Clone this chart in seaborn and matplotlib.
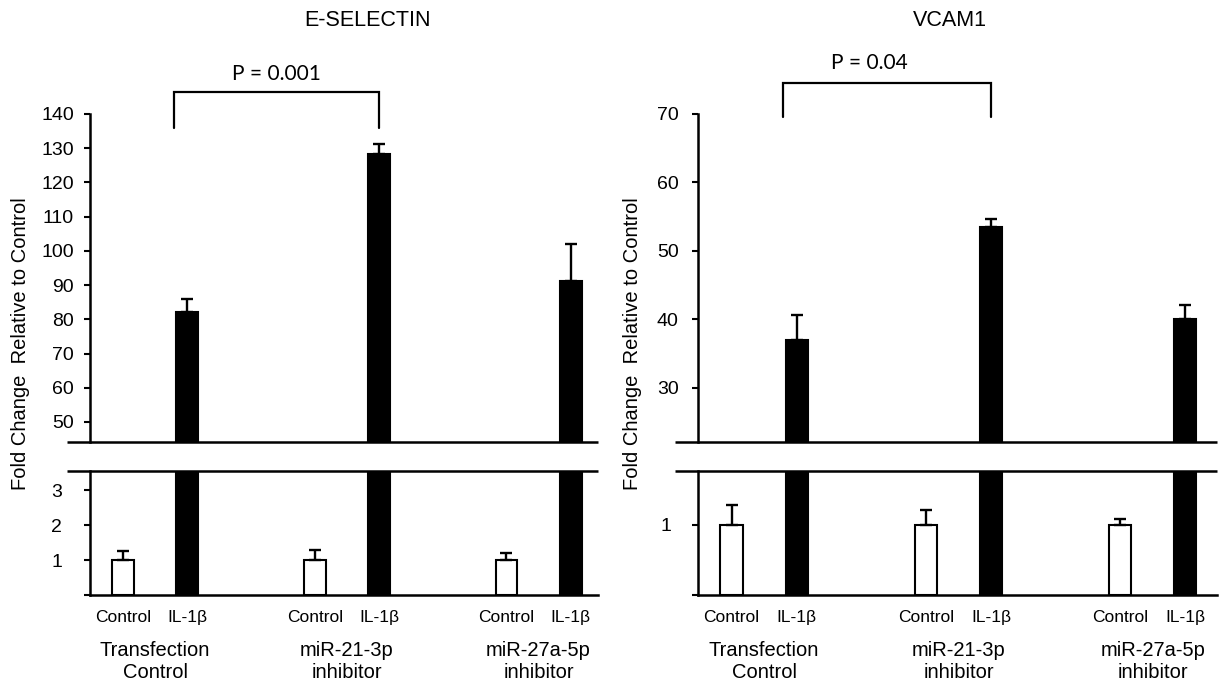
import numpy as np
import pandas as pd
import matplotlib
matplotlib.use("Agg")
import matplotlib.pyplot as plt
import seaborn as sns

# ---------------- data ----------------
groups = ["Transfection\nControl", "miR-21-3p\ninhibitor", "miR-27a-5p\ninhibitor"]
treatments = ["Control", "IL-1β"]

esel_control = [1.0, 1.0, 1.0]
esel_control_err = [0.27, 0.30, 0.21]
esel_il1b = [82.0, 128.3, 91.2]
esel_il1b_err = [3.8, 2.9, 10.8]

vcam_control = [1.0, 1.0, 1.0]
vcam_control_err = [0.29, 0.21, 0.09]
vcam_il1b = [37.0, 53.5, 40.1]
vcam_il1b_err = [3.6, 1.1, 2.0]

titles = ["E-SELECTIN", "VCAM1"]
p_labels = ["P = 0.001", "P = 0.04"]
esel_upper_ticks = [50, 60, 70, 80, 90, 100, 110, 120, 130, 140]
esel_lower_ticks = [0, 1, 2, 3]
vcam_upper_ticks = [30, 40, 50, 60, 70]
vcam_lower_ticks = [0, 1]
ylabel = "Fold Change  Relative to Control"

# ---------------- style ----------------
sns.set_theme(style="white")
plt.rcParams["font.family"] = ["Liberation Sans", "DejaVu Sans"]
for k in ["text.color", "axes.labelcolor", "xtick.color", "ytick.color", "axes.edgecolor"]:
    plt.rcParams[k] = "black"

W, H = 1219, 685
fig = plt.figure(figsize=(W / 100, H / 100), dpi=100)


def add_ax(x0, y0, x1, y1):
    return fig.add_axes([x0 / W, 1 - y1 / H, (x1 - x0) / W, (y1 - y0) / H])


def make_df(ctrl, il):
    rows = []
    for g, c, i in zip(groups, ctrl, il):
        rows.append({"group": g, "treatment": treatments[0], "value": c})
        rows.append({"group": g, "treatment": treatments[1], "value": i})
    return pd.DataFrame(rows)


palette = {treatments[0]: "white", treatments[1]: "black"}
LW = 1.8

panels = [
    dict(ctrl=esel_control, ctrl_err=esel_control_err, il=esel_il1b, il_err=esel_il1b_err,
         x0=90, x1=598, xmax=2.31, upper_ylim=(44.15, 140), lower_ylim=(0, 3.55),
         upper_ticks=esel_upper_ticks, lower_ticks=esel_lower_ticks,
         upper_pad=7.5, lower_pad=16,
         title=titles[0], title_x=367, p=p_labels[0], p_dx=0.0,
         br=(146.4, 135.9, 151.6), ylab_x=21, ylab_y=344, ylab_fs=14.5),
    dict(ctrl=vcam_control, ctrl_err=vcam_control_err, il=vcam_il1b, il_err=vcam_il1b_err,
         x0=698, x1=1217, xmax=2.33, upper_ylim=(22.1, 70), lower_ylim=(0, 1.77),
         upper_ticks=vcam_upper_ticks, lower_ticks=vcam_lower_ticks,
         upper_pad=10, lower_pad=15,
         title=titles[1], title_x=950, p=p_labels[1], p_dx=-0.093,
         br=(74.6, 69.6, 77.5), ylab_x=633, ylab_y=344, ylab_fs=14.5),
]

for pn in panels:
    ax_top = add_ax(pn["x0"], 114, pn["x1"], 442)
    ax_bot = add_ax(pn["x0"], 471, pn["x1"], 595)
    df = make_df(pn["ctrl"], pn["il"])
    vals = [v for pair in zip(pn["ctrl"], pn["il"]) for v in pair]
    errs = [e for pair in zip(pn["ctrl_err"], pn["il_err"]) for e in pair]
    axw = pn["x1"] - pn["x0"]

    for ax in (ax_top, ax_bot):
        sns.barplot(data=df, x="group", y="value", hue="treatment",
                    order=groups, hue_order=treatments, palette=palette,
                    saturation=1, edgecolor="black", linewidth=1.5,
                    width=0.67, gap=0.66, errorbar=None, legend=False, ax=ax)
        bars = sorted([p for p in ax.patches], key=lambda p: p.get_x())
        xs = [b.get_x() + b.get_width() / 2 for b in bars]
        ax.errorbar(xs, vals, yerr=[np.zeros(len(vals)), errs], fmt="none",
                    ecolor="black", elinewidth=1.7, capsize=4.2, capthick=1.7)
        ax.set_xlim(-0.34, pn["xmax"])
        ax.set_xlabel("")
        ax.set_ylabel("")
        ax.spines["right"].set_visible(False)
        for s in ax.spines.values():
            s.set_linewidth(LW)
            s.set_color("black")
        ax.tick_params(axis="y", direction="out", length=4, width=1.5,
                       color="black", labelsize=14, left=True)
        ax.set_facecolor("white")
        ax._bar_xs = xs

    # upper axes
    ax_top.set_ylim(*pn["upper_ylim"])
    ax_top.set_yticks(pn["upper_ticks"])
    ax_top.tick_params(axis="y", pad=pn["upper_pad"])
    ax_top.spines["top"].set_visible(False)
    ax_top.spines["bottom"].set_visible(False)
    ax_top.set_xticks([])
    ext = 23 / axw
    ax_top.plot([-ext, 1], [0, 0], transform=ax_top.transAxes, color="black",
                lw=LW, clip_on=False, solid_capstyle="butt")

    # lower axes
    ax_bot.set_ylim(*pn["lower_ylim"])
    ax_bot.set_yticks(pn["lower_ticks"])
    ax_bot.set_yticklabels(["" if t == 0 else str(t) for t in pn["lower_ticks"]])
    ax_bot.tick_params(axis="y", pad=pn["lower_pad"])
    ax_bot.spines["top"].set_visible(False)
    ax_bot.plot([-ext, 1], [1, 1], transform=ax_bot.transAxes, color="black",
                lw=LW, clip_on=False, solid_capstyle="butt")
    ax_bot.set_xticks(range(len(groups)))
    ax_bot.set_xticklabels(groups, fontsize=14.5, linespacing=1.22)
    ax_bot.tick_params(axis="x", length=0, pad=33)

    # sub-labels under each bar
    for xb, lab in zip(ax_bot._bar_xs, treatments * len(groups)):
        ax_bot.annotate(lab, xy=(xb, 0), xycoords=("data", "axes fraction"),
                        xytext=(0, -16), textcoords="offset points",
                        ha="center", va="center", fontsize=12.5)

    # title
    fig.text(pn["title_x"] / W, 1 - 21 / H, pn["title"], ha="center", va="center",
             fontsize=15.5)

    # significance bracket
    xs = ax_top._bar_xs
    xl, xr = xs[1] - 0.07, xs[3]
    yh, yl, yt = pn["br"]
    ax_top.plot([xl, xl, xr, xr], [yl, yh, yh, yl], color="black", lw=1.6,
                clip_on=False, solid_joinstyle="miter")
    ax_top.text((xl + xr) / 2 + pn["p_dx"], yt, pn["p"], ha="center", va="center",
                fontsize=15, family=["Lato", "Liberation Sans"], clip_on=False)

    # y label
    fig.text(pn["ylab_x"] / W, 1 - pn["ylab_y"] / H, ylabel, rotation=90, ha="center",
             va="center", fontsize=pn["ylab_fs"])

fig.savefig("out.png", dpi=100, facecolor="white")
